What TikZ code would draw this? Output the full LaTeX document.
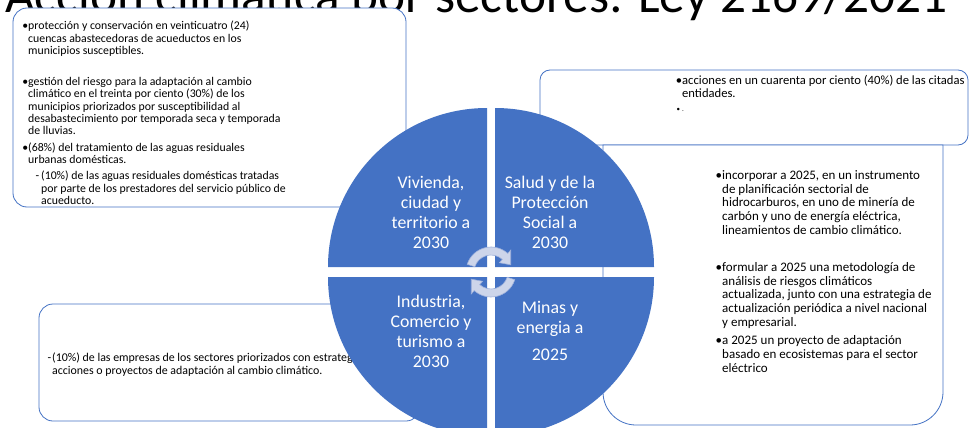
\documentclass[tikz,border=0pt]{standalone}
\usepackage{fontspec}
\setmainfont{Carlito}
\definecolor{secblue}{HTML}{4472C4}
\definecolor{cyclefill}{HTML}{CDD5EA}
\definecolor{cycleedge}{HTML}{9DB0DB}

\begin{document}
\begin{tikzpicture}[
  x=1pt, y=-1pt,
  box/.style={draw=secblue, fill=white, line width=0.8pt, rounded corners=14pt},
  quad/.style={fill=secblue},
  qtext/.style={text=white, align=center, inner sep=0pt,
                font=\fontsize{17.8}{20}\selectfont},
  note/.style={anchor=base west, align=left, inner sep=0pt},
  cyc/.style={fill=cyclefill, draw=cycleedge, line width=0.6pt},
]
\useasboundingbox (0,0) rectangle (969,428);
\clip (0,0) rectangle (969,428);

% ---- title, cut by the top edge ----
\node[anchor=base west, inner sep=0pt, font=\fontsize{51.3}{56}\selectfont]
  (title) at (5,13) {Acción climática por sectores: Ley 2169/2021};
% clean paper below the title line
\fill[white] (0,30) rectangle (969,428);

% ---- text boxes behind the pie ----
\draw[box] (13,8) rectangle (406,207);
\draw[box, rounded corners=10pt] (540,70) rectangle (968,145);
\draw[draw=secblue, fill=white, line width=0.8pt]
  (603,145) -- (943,145) -- (943,392) arc[start angle=0, end angle=90, radius=33]
  -- (636,425) arc[start angle=90, end angle=180, radius=33] -- cycle;
\draw[box] (39,304) rectangle (420,421);

% (base anchor = baseline of the last line)
\node[note, font=\fontsize{11.8}{12.3}\selectfont] (vivtxt) at (28,204.5)
  {\llap{•}protección y conservación en veinticuatro (24)\\
   cuencas abastecedoras de acueductos en los\\
   municipios susceptibles.\\[19pt]
   \llap{•}gestión del riesgo para la adaptación al cambio\\
   climático en el treinta por ciento (30\%) de los\\
   municipios priorizados por susceptibilidad al\\
   desabastecimiento por temporada seca y temporada\\
   de lluvias.\\[4.5pt]
   \llap{•}(68\%) del tratamiento de las aguas residuales\\
   urbanas domésticas.\\[3.7pt]
   \hspace*{13pt}\llap{-\hspace{2pt}}(10\%) de las aguas residuales domésticas tratadas\\
   \hspace*{13pt}por parte de los prestadores del servicio público de\\
   \hspace*{13pt}acueducto.};

\node[note, font=\fontsize{12.6}{13.3}\selectfont] (saltxt) at (682,111)
  {\llap{•}acciones en un cuarenta por ciento (40\%) de las citadas\\
   entidades.\\
   {\fontsize{7}{7}\selectfont\llap{•\hspace{2pt}}.}};

\node[note, font=\fontsize{13}{13.8}\selectfont] (mintxt) at (722,372.3)
  {\llap{•}incorporar a 2025, en un instrumento\\
   de planificación sectorial de\\
   hidrocarburos, en uno de minería de\\
   carbón y uno de energía eléctrica,\\
   lineamientos de cambio climático.\\[23pt]
   \llap{•}formular a 2025 una metodología de\\
   análisis de riesgos climáticos\\
   actualizada, junto con una estrategia de\\
   actualización periódica a nivel nacional\\
   y empresarial.\\[4.5pt]
   \llap{•}a 2025 un proyecto de adaptación\\
   basado en ecosistemas para el sector\\
   eléctrico};

\node[note, font=\fontsize{11.9}{13.3}\selectfont] (indtxt) at (52,374.7)
  {\llap{-\hspace{1pt}}(10\%) de las empresas de los sectores priorizados con estrategias,\\
   acciones o proyectos de adaptación al cambio climático.};

% ---- pie of four sectors ----
\fill[quad] (487,267) -- ++(180:159) arc[start angle=180, end angle=270, radius=159] -- cycle;
\fill[quad] (495,267) -- ++(270:159) arc[start angle=270, end angle=360, radius=159] -- cycle;
\fill[quad] (487,277) -- ++(90:159) arc[start angle=90, end angle=180, radius=159] -- cycle;
\fill[quad] (495,277) -- ++(0:159) arc[start angle=0, end angle=90, radius=159] -- cycle;

\node[qtext] (viv) at (431,212) {Vivienda,\\ ciudad y\\ territorio a\\ 2030};
\node[qtext] (sal) at (550,212) {Salud y de la\\ Protección\\ Social a\\ 2030};
\node[qtext] (ind) at (431,331) {Industria,\\ Comercio y\\ turismo a\\ 2030};
\node[qtext] (min) at (550,331) {Minas y\\ energia a\\[7pt] 2025};

% ---- cycle arrows in the middle ----
\begin{scope}[shift={(491,272)}]
  \draw[cyc] (-162:25) arc[start angle=-162, end angle=-48, radius=25]
    -- (-48:29.5) -- (-20:21) -- (-48:12.5) -- (-48:17)
    arc[start angle=-48, end angle=-162, radius=17] -- cycle;
  \draw[cyc] (18:25) arc[start angle=18, end angle=132, radius=25]
    -- (132:29.5) -- (160:21) -- (132:12.5) -- (132:17)
    arc[start angle=132, end angle=18, radius=17] -- cycle;
\end{scope}
\end{tikzpicture}
\end{document}
